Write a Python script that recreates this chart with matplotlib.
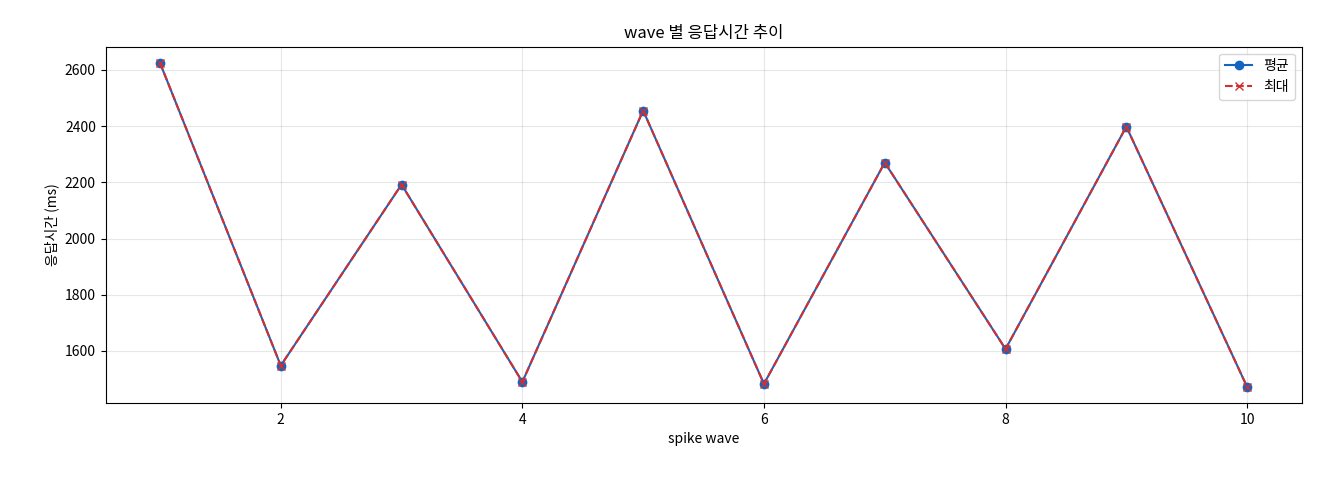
import matplotlib
matplotlib.use('Agg')
import matplotlib.pyplot as plt

plt.rcParams['font.family'] = ['Noto Sans CJK KR', 'DejaVu Sans']
plt.rcParams['axes.unicode_minus'] = False

waves = [1, 2, 3, 4, 5, 6, 7, 8, 9, 10]
avg_ms = [2625, 1548, 2192, 1490, 2455, 1483, 2270, 1607, 2398, 1472]
max_ms = [2625, 1548, 2192, 1490, 2455, 1483, 2270, 1607, 2398, 1472]

fig, ax = plt.subplots(figsize=(13.2, 4.8), dpi=100)
ax.plot(waves, avg_ms, marker='o', color='#1565c0', label='평균', linewidth=1.5, markersize=6)
ax.plot(waves, max_ms, marker='x', linestyle='--', color='#d32f2f', label='최대', linewidth=1.5, markersize=6)

ax.set_title('wave 별 응답시간 추이', fontsize=12)
ax.set_xlabel('spike wave', fontsize=10)
ax.set_ylabel('응답시간 (ms)', fontsize=10)
ax.grid(True, alpha=0.3)
ax.legend(loc='upper right')

plt.subplots_adjust(left=0.08, right=0.986, top=0.903, bottom=0.16)
plt.savefig('out.png', dpi=100)
